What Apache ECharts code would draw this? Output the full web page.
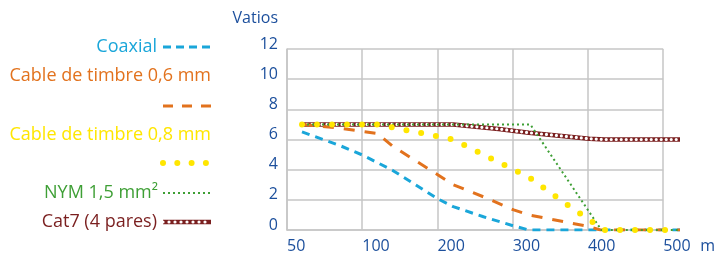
<!DOCTYPE html>
<html>
<head>
<meta charset="utf-8">
<script src="https://cdn.jsdelivr.net/npm/echarts@6/dist/echarts.min.js"></script>
<style>
  html, body { margin: 0; padding: 0; background: #fff; }
  #chart { width: 718px; height: 257px; }
</style>
</head>
<body>
<div id="chart"></div>
<script>
// categorías del eje x (posición 0..5)
var xLabels = ['50', '100', '200', '300', '400', '500'];

// valores: [posición en el eje, vatios]
var coaxial = [[0, 6.5], [0.5, 5.6], [0.8, 4.97], [1.2, 3.95], [1.8, 2.06], [2, 1.55], [2.4, 0.88], [2.8, 0.27], [3, 0], [5, 0]];
var timbre06 = [[0, 7], [0.5, 6.75], [1, 6.4], [1.2, 5.55], [1.8, 3.65], [2, 3.0], [2.4, 2.2], [2.8, 1.33], [3, 1.0], [3.8, 0.22], [3.95, 0], [5, 0]];
var timbre08 = [[0, 7], [1, 7], [1.2, 6.8], [2, 6.0], [3, 3.5], [3.5, 1.7], [4, 0], [5, 0]];
var nym = [[0, 7], [3.02, 7], [3.96, 0], [5, 0]];
var cat7 = [[0, 7], [2, 7], [2.6, 6.7], [3, 6.45], [3.8, 6.05], [4, 6], [5, 6]];

var C_COAX = '#1aa6d9';
var C_T06 = '#e2721d';
var C_T08 = '#ffe600';
var C_NYM = '#3e9f35';
var C_CAT7 = '#7a1f1f';
var C_AXIS = '#1c4f9c';
var C_GRID = '#c6c6c6';
var FONT = 'Open Sans';

var myChart = echarts.init(document.getElementById('chart'));

function legendText(text, x, y, color) {
    return {
        type: 'text', x: x, y: y,
        style: { text: text, fill: color, font: '18px "' + FONT + '"', align: 'right', verticalAlign: 'middle' }
    };
}
function legendLine(y, style) {
    return { type: 'line', shape: { x1: 163, y1: y, x2: 211, y2: y }, style: style };
}
function serie(name, data, lineStyle) {
    return {
        name: name, type: 'line', xAxisIndex: 1, yAxisIndex: 1, data: data,
        showSymbol: false, silent: true, lineStyle: lineStyle
    };
}

var option = {
    animation: false,
    grid: [
        { left: 287, right: 53, top: 49, bottom: 27 },   // rejilla
        { left: 302, right: 38, top: 49, bottom: 27 }    // datos (desplazados)
    ],
    xAxis: [{
        gridIndex: 0,
        type: 'value',
        min: 0,
        max: 5,
        interval: 1,
        name: 'm',
        nameLocation: 'end',
        nameGap: 37,
        nameTextStyle: { color: C_AXIS, fontSize: 16, fontFamily: FONT, align: 'left', verticalAlign: 'top', padding: [8, 0, 0, 0] },
        axisLine: { show: true, lineStyle: { color: C_GRID, width: 1.5 } },
        axisTick: { show: false },
        axisLabel: {
            color: C_AXIS, fontSize: 16, fontFamily: FONT, align: 'left', margin: 8,
            formatter: function (v) { return xLabels[v]; }
        },
        splitLine: { show: true, lineStyle: { color: C_GRID, width: 1.5 } }
    }, {
        gridIndex: 1,
        type: 'value',
        min: 0,
        max: 5,
        show: false
    }],
    yAxis: [{
        gridIndex: 0,
        type: 'value',
        min: 0,
        max: 12,
        interval: 2,
        name: 'Vatios',
        nameLocation: 'end',
        nameGap: 23,
        nameTextStyle: { color: C_AXIS, fontSize: 16, fontFamily: FONT, align: 'right', padding: [0, 9, 0, 0] },
        axisLine: { show: true, lineStyle: { color: C_GRID, width: 1.5 } },
        axisTick: { show: false },
        axisLabel: { color: C_AXIS, fontSize: 16, fontFamily: FONT, margin: 9, verticalAlign: 'bottom', lineHeight: 10 },
        splitLine: { show: true, lineStyle: { color: C_GRID, width: 1.5 } }
    }, {
        gridIndex: 1,
        type: 'value',
        min: 0,
        max: 12,
        show: false
    }],
    series: [
        serie('Cat7 (4 pares)', cat7, { color: C_CAT7, width: 4.5 }),
        serie('cat7-hueco', cat7, { color: '#ffffff', width: 3.2, type: [0, 5], cap: 'round' }),
        serie('Coaxial', coaxial, { color: C_COAX, width: 3, type: [8, 6] }),
        serie('Cable de timbre 0,6 mm', timbre06, { color: C_T06, width: 3, type: [11, 10] }),
        serie('NYM 1,5 mm²', nym, { color: C_NYM, width: 2, type: [2, 3] }),
        serie('Cable de timbre 0,8 mm', timbre08, { color: C_T08, width: 6, type: [0, 15], cap: 'round' })
    ],
    graphic: [
        legendText('Coaxial', 157, 47, C_COAX),
        legendLine(47, { stroke: C_COAX, lineWidth: 3, lineDash: [8, 5] }),
        legendText('Cable de timbre 0,6 mm', 211, 76, C_T06),
        legendLine(106, { stroke: C_T06, lineWidth: 3, lineDash: [10, 9] }),
        legendText('Cable de timbre 0,8 mm', 211, 135, C_T08),
        legendLine(163, { stroke: C_T08, lineWidth: 6, lineDash: [0, 14.3], lineCap: 'round' }),
        legendText('NYM 1,5 mm²', 158, 193, C_NYM),
        legendLine(193, { stroke: C_NYM, lineWidth: 2, lineDash: [2, 3] }),
        legendText('Cat7 (4 pares)', 157, 222, C_CAT7),
        legendLine(222, { stroke: C_CAT7, lineWidth: 4.5 }),
        legendLine(222, { stroke: '#ffffff', lineWidth: 3.2, lineDash: [0, 6], lineCap: 'round' })
    ]
};

option && myChart.setOption(option);
</script>
</body>
</html>
